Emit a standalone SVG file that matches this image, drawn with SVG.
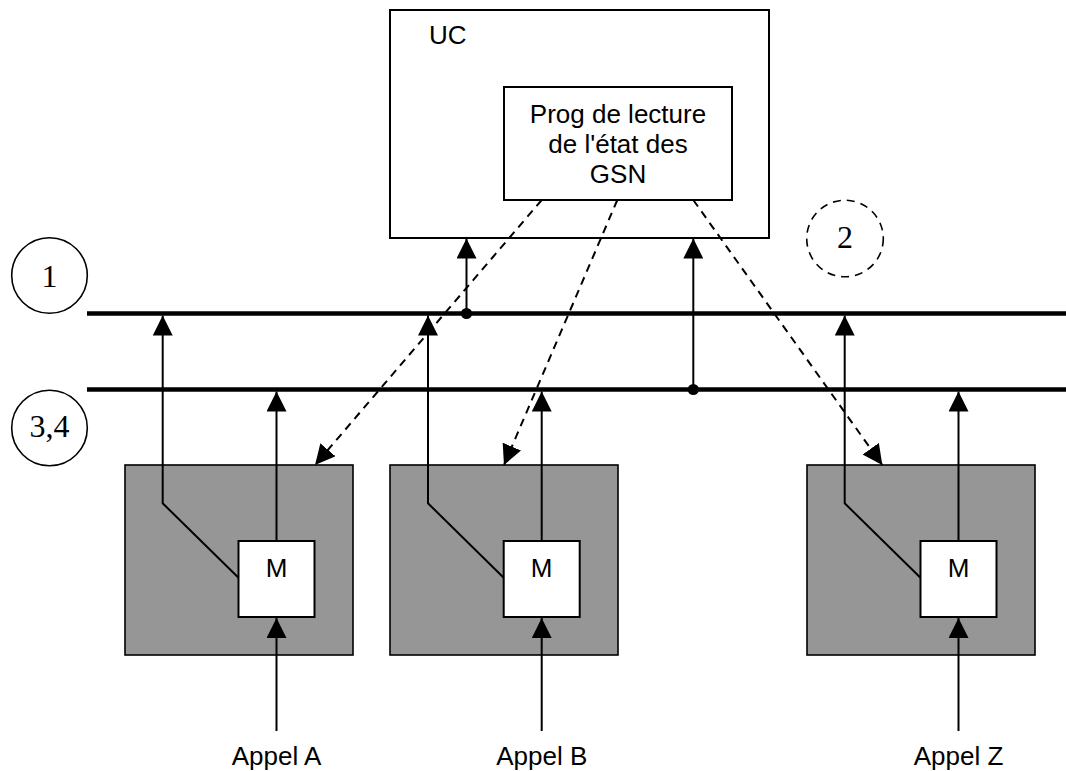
<svg xmlns="http://www.w3.org/2000/svg" width="1066" height="771" viewBox="0 0 1066 771">
<style>
.box{fill:#ffffff;stroke:#000;stroke-width:2}
.gray{fill:#969696;stroke:#000;stroke-width:1.6}
.lbl{font-family:"Liberation Sans",Arial,sans-serif;font-size:26px;fill:#000}
.num{font-family:"Liberation Serif","Times New Roman",serif;font-size:32px;fill:#000}
.ln{fill:none;stroke:#000;stroke-width:2}
.dash{fill:none;stroke:#000;stroke-width:2;stroke-dasharray:8 6}
.bus{fill:none;stroke:#000;stroke-width:4.3}
.circ{fill:#fff;stroke:#000;stroke-width:1.6}
</style>
<defs>
<marker id="ah" markerUnits="userSpaceOnUse" markerWidth="20" markerHeight="20" refX="20" refY="10" orient="auto" viewBox="0 0 20 20">
<path d="M0,0 L20,10 L0,20 z" fill="#000"/>
</marker>
</defs>

<g id="uc">
<rect class="box" x="390" y="10" width="379" height="228"/>
<text class="lbl" x="429" y="44">UC</text>
</g>
<g id="prog">
<rect class="box" x="504" y="87" width="228" height="113"/>
<text class="lbl" x="618" y="123" text-anchor="middle">Prog de lecture</text>
<text class="lbl" x="618" y="153" text-anchor="middle">de l'état des</text>
<text class="lbl" x="618" y="183" text-anchor="middle">GSN</text>
</g>

<g id="c1">
<circle class="circ" cx="49.5" cy="275.5" r="37.8"/>
<text class="num" x="49.5" y="287" text-anchor="middle">1</text>
</g>
<g id="c34">
<circle class="circ" cx="49.5" cy="428" r="37.8"/>
<text class="num" x="49.5" y="437" text-anchor="middle">3,4</text>
</g>
<g id="c2">
<circle class="circ" cx="845" cy="238.5" r="38.3" stroke-dasharray="8 6"/>
<text class="num" x="845" y="248" text-anchor="middle">2</text>
</g>

<g id="boxA">
<rect class="gray" x="125" y="465" width="228" height="190"/>
<rect class="box" x="238.5" y="541" width="76" height="76"/>
<text class="lbl" x="276.5" y="577" text-anchor="middle">M</text>
<text class="lbl" x="276.5" y="765" text-anchor="middle">Appel A</text>
</g>
<g id="boxB">
<rect class="gray" x="390" y="465" width="228" height="190"/>
<rect class="box" x="503.7" y="541" width="76" height="76"/>
<text class="lbl" x="541.7" y="577" text-anchor="middle">M</text>
<text class="lbl" x="541.7" y="765" text-anchor="middle">Appel B</text>
</g>
<g id="boxZ">
<rect class="gray" x="807" y="465" width="228" height="190"/>
<rect class="box" x="920.5" y="541" width="76" height="76"/>
<text class="lbl" x="958.5" y="577" text-anchor="middle">M</text>
<text class="lbl" x="958.5" y="765" text-anchor="middle">Appel Z</text>
</g>

<g id="connectors">
<line class="bus" x1="87" y1="313.5" x2="1066" y2="313.5"/>
<line class="bus" x1="87" y1="389.5" x2="1066" y2="389.5"/>

<line class="ln" x1="466.5" y1="313.5" x2="466.5" y2="238.5" marker-end="url(#ah)"/>
<circle cx="466.5" cy="313.5" r="5.6" fill="#000"/>
<line class="ln" x1="693.3" y1="389.5" x2="693.3" y2="238.5" marker-end="url(#ah)"/>
<circle cx="693.3" cy="389.5" r="5.6" fill="#000"/>

<polyline class="ln" points="238.5,577.7 162.7,503.3 162.7,315.5" marker-end="url(#ah)"/>
<line class="ln" x1="276.5" y1="541" x2="276.5" y2="391.5" marker-end="url(#ah)"/>
<line class="ln" x1="276.5" y1="731" x2="276.5" y2="618" marker-end="url(#ah)"/>

<polyline class="ln" points="503.7,577.7 428,503.3 428,315.5" marker-end="url(#ah)"/>
<line class="ln" x1="541.7" y1="541" x2="541.7" y2="391.5" marker-end="url(#ah)"/>
<line class="ln" x1="541.7" y1="731" x2="541.7" y2="618" marker-end="url(#ah)"/>

<polyline class="ln" points="920.5,577.7 844.7,503.3 844.7,315.5" marker-end="url(#ah)"/>
<line class="ln" x1="958.5" y1="541" x2="958.5" y2="391.5" marker-end="url(#ah)"/>
<line class="ln" x1="958.5" y1="731" x2="958.5" y2="618" marker-end="url(#ah)"/>

<line class="dash" x1="541.7" y1="200" x2="315" y2="465" marker-end="url(#ah)"/>
<line class="dash" x1="617.3" y1="200" x2="504" y2="465" marker-end="url(#ah)"/>
<line class="dash" x1="693.3" y1="200" x2="882.3" y2="465" marker-end="url(#ah)"/>
</g>
</svg>
